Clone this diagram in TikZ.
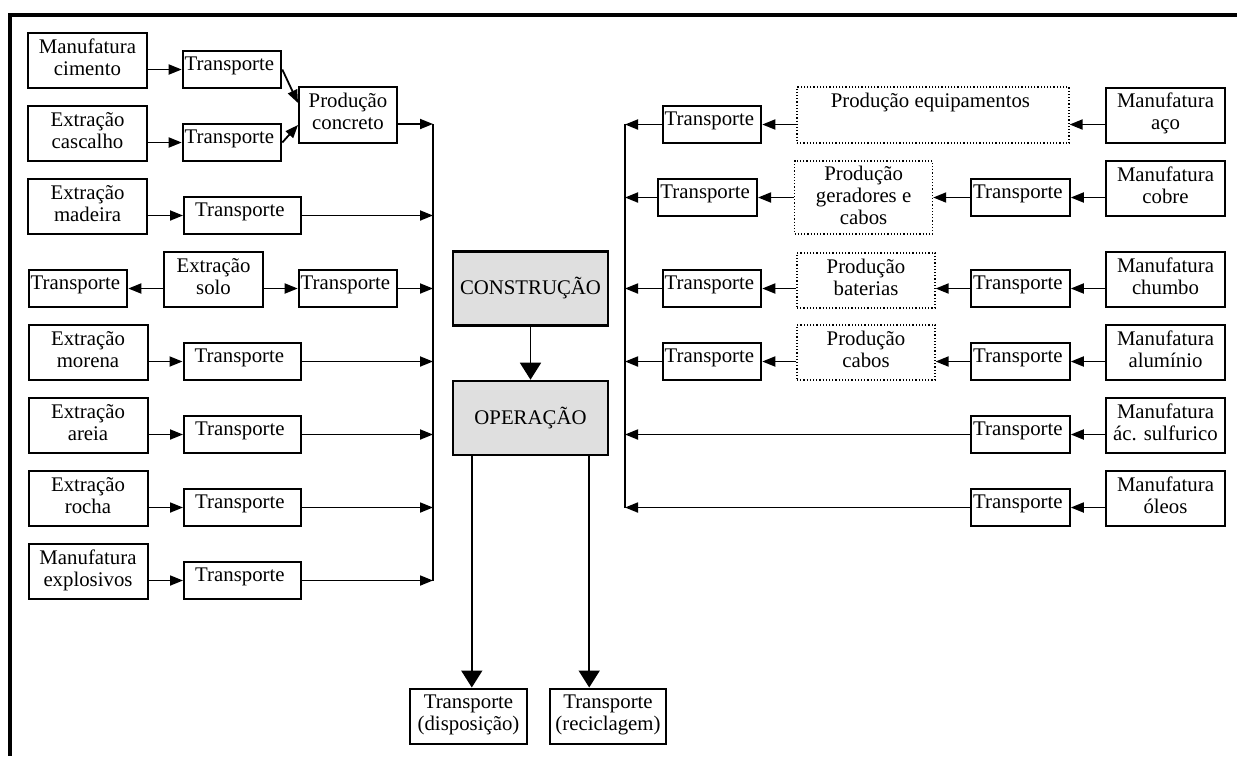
\documentclass[tikz,border=0pt]{standalone}
\usepackage{fontspec}
\setmainfont{Liberation Serif}
\usepackage{tikz}
\usetikzlibrary{shapes,arrows.meta,positioning}
\tikzstyle{block} = [rectangle, draw, line width=1pt, align=center, inner xsep=1pt, inner ysep=0pt, text height=21.2pt, text depth=6.3pt, minimum width=59.5pt, minimum height=27.5pt]
\tikzstyle{trans} = [block, text height=9.5pt, text depth=9pt, minimum width=49pt, minimum height=18.5pt]
\tikzstyle{longtrans} = [trans, minimum width=58.5pt]
\tikzstyle{prod} = [block, line width=0.6pt, densely dotted, minimum width=69pt]
\tikzstyle{phase} = [rectangle, draw, line width=1.2pt, fill=gray!25, minimum width=77.5pt, minimum height=37pt]
\tikzstyle{line} = [draw, line width=0.9pt, -{Triangle[length=6.5pt,width=5pt]}]
\tikzstyle{bigline} = [draw, line width=0.9pt, -{Triangle[length=8.5pt,width=10.5pt]}]

\begin{document}
\begin{tikzpicture}[x=0.5pt, y=-0.5pt, node distance=18pt, font=\fontsize{10.4}{11.2}\selectfont]
            \useasboundingbox (0,0) rectangle (1237,756);
            \draw[line width=2pt] (1237,15) -- (10,15) -- (10,756);

            % materiais de construcao
            \node[block]                           (mcim) at (87.5,60.5){
                Manufatura\\cimento
            };
            \node[trans]                           (tcim) at (232,69.5){
                Transporte
            };
            \path[line] (mcim.east |- tcim) --     (tcim);

            \node[block]                           (ecas) at (87.5,133.5){
                Extração\\cascalho
            };
            \node[trans]                           (tcas) at (232,142.5){
                Transporte
            };
            \path[line] (ecas.east |- tcas) --     (tcas);

            \node[block, minimum width=49pt, minimum height=28pt] (pcon) at (348,115){
                Produção\\concreto
            };
            \path[line] (tcim.east) --             ([yshift=6pt]pcon.west);
            \path[line] (tcas.east) --             ([yshift=-5pt]pcon.west);

            \node[block]                           (emad) at (87.5,206.5){
                Extração\\madeira
            };
            \node[longtrans]                       (tmad) at (242.5,215.5){
                Transporte
            };
            \path[line] (emad.east |- tmad) --     (tmad);

            \node[block, minimum width=49.5pt]     (esol) at (213.5,279.5){
                Extração\\solo
            };
            \node[trans]                           (tsolL) at (78,288.5){
                Transporte
            };
            \node[trans]                           (tsolR) at (348,288.5){
                Transporte
            };
            \path[line] (esol.west |- tsolL) --    (tsolL);
            \path[line] (esol.east |- tsolR) --    (tsolR);

            \node[block]                           (emor) at (88,352.5){
                Extração\\morena
            };
            \node[longtrans]                       (tmor) at (242,361.5){
                Transporte
            };
            \path[line] (emor.east |- tmor) --     (tmor);

            \node[block]                           (eare) at (88,425.5){
                Extração\\areia
            };
            \node[longtrans]                       (tare) at (242.5,434.5){
                Transporte
            };
            \path[line] (eare.east |- tare) --     (tare);

            \node[block]                           (eroc) at (88,498.5){
                Extração\\rocha
            };
            \node[longtrans]                       (troc) at (242.5,507.5){
                Transporte
            };
            \path[line] (eroc.east |- troc) --     (troc);

            \node[block]                           (mexp) at (88,571.5){
                Manufatura\\explosivos
            };
            \node[longtrans]                       (texp) at (242.5,580.5){
                Transporte
            };
            \path[line] (mexp.east |- texp) --     (texp);

            \coordinate (busL) at (433,124);
            \coordinate (busLend) at (433,580.5);
            \draw[line width=0.9pt] (busL) --      (busLend);
            \path[line] (pcon.east |- busL) --     (busL);
            \path[line] (tmad) --                  (tmad -| busL);
            \path[line] (tsolR) --                 (tsolR -| busL);
            \path[line] (tmor) --                  (tmor -| busL);
            \path[line] (tare) --                  (tare -| busL);
            \path[line] (troc) --                  (troc -| busL);
            \path[line] (texp) --                  (texp -| busL);

            % fases
            \node[phase]                           (cons) at (530.5,288.5){CONSTRUÇÃO};
            \node[phase, below=26.5pt of cons]     (oper){OPERAÇÃO};
            \path[bigline] (cons) --               (oper);

            \node[block, minimum width=58.5pt]     (tdis) at (468.5,716){
                Transporte\\(disposição)
            };
            \node[block, minimum width=58pt]       (trec) at (608,716){
                Transporte\\(reciclagem)
            };
            \path[bigline] ([xshift=10pt]oper.south west) --  ([xshift=10pt]oper.south west |- tdis.north);
            \path[bigline] ([xshift=-10pt]oper.south east) -- ([xshift=-10pt]oper.south east |- trec.north);

            % equipamentos
            \coordinate (busR) at (625,123.5);
            \coordinate (busRend) at (625,507.5);
            \draw[line width=0.9pt] (busR) --      (busRend);

            \node[block]                           (maco) at (1165.5,115){
                Manufatura\\aço
            };
            \node[prod, text height=10pt, text depth=18pt, minimum width=136pt, minimum height=28pt] (pequ) at (933,115){
                Produção equipamentos
            };
            \node[trans]                           (tequ) at (712,124.5){
                Transporte
            };
            \path[line] (maco.west |- tequ) --     (pequ.east |- tequ);
            \path[line] (pequ.west |- tequ) --     (tequ);
            \path[line] (tequ) --                  (tequ -| busR);

            \node[block]                           (mcob) at (1165.5,188.5){
                Manufatura\\cobre
            };
            \node[trans]                           (tcob) at (1020.5,197.5){
                Transporte
            };
            \node[prod, text height=31.9pt, text depth=4.6pt, minimum height=36.5pt, left=18.5pt of tcob] (pger){
                Produção\\geradores e\\cabos
            };
            \node[trans, left=18pt of pger]        (tger){
                Transporte
            };
            \path[line] (mcob.west |- tcob) --     (tcob);
            \path[line] (tcob) --                  (pger);
            \path[line] (pger) --                  (tger);
            \path[line] (tger) --                  (tger -| busR);

            \node[block]                           (mchu) at (1165.5,279.5){
                Manufatura\\chumbo
            };
            \node[trans]                           (tchu) at (1020.5,288.5){
                Transporte
            };
            \node[prod]                            (pbat) at (866,280.5){
                Produção\\baterias
            };
            \node[trans]                           (tbat) at (712,288.5){
                Transporte
            };
            \path[line] (mchu.west |- tchu) --     (tchu);
            \path[line] (tchu) --                  (pbat.east |- tchu);
            \path[line] (pbat.west |- tbat) --     (tbat);
            \path[line] (tbat) --                  (tbat -| busR);

            \node[block]                           (malu) at (1165.5,352.5){
                Manufatura\\alumínio
            };
            \node[trans]                           (talu) at (1020.5,361.5){
                Transporte
            };
            \node[prod]                            (pcab) at (866,352.5){
                Produção\\cabos
            };
            \node[trans]                           (tcab) at (712,361.5){
                Transporte
            };
            \path[line] (malu.west |- talu) --     (talu);
            \path[line] (talu) --                  (pcab.east |- talu);
            \path[line] (pcab.west |- tcab) --     (tcab);
            \path[line] (tcab) --                  (tcab -| busR);

            \node[block]                           (maci) at (1165.5,425.5){
                Manufatura\\ác. sulfurico
            };
            \node[trans]                           (taci) at (1020.5,434.5){
                Transporte
            };
            \path[line] (maci.west |- taci) --     (taci);
            \path[line] (taci) --                  (taci -| busR);

            \node[block]                           (mole) at (1165.5,498.5){
                Manufatura\\óleos
            };
            \node[trans]                           (tole) at (1020.5,507.5){
                Transporte
            };
            \path[line] (mole.west |- tole) --     (tole);
            \path[line] (tole) --                  (tole -| busR);
        \end{tikzpicture}
\end{document}
